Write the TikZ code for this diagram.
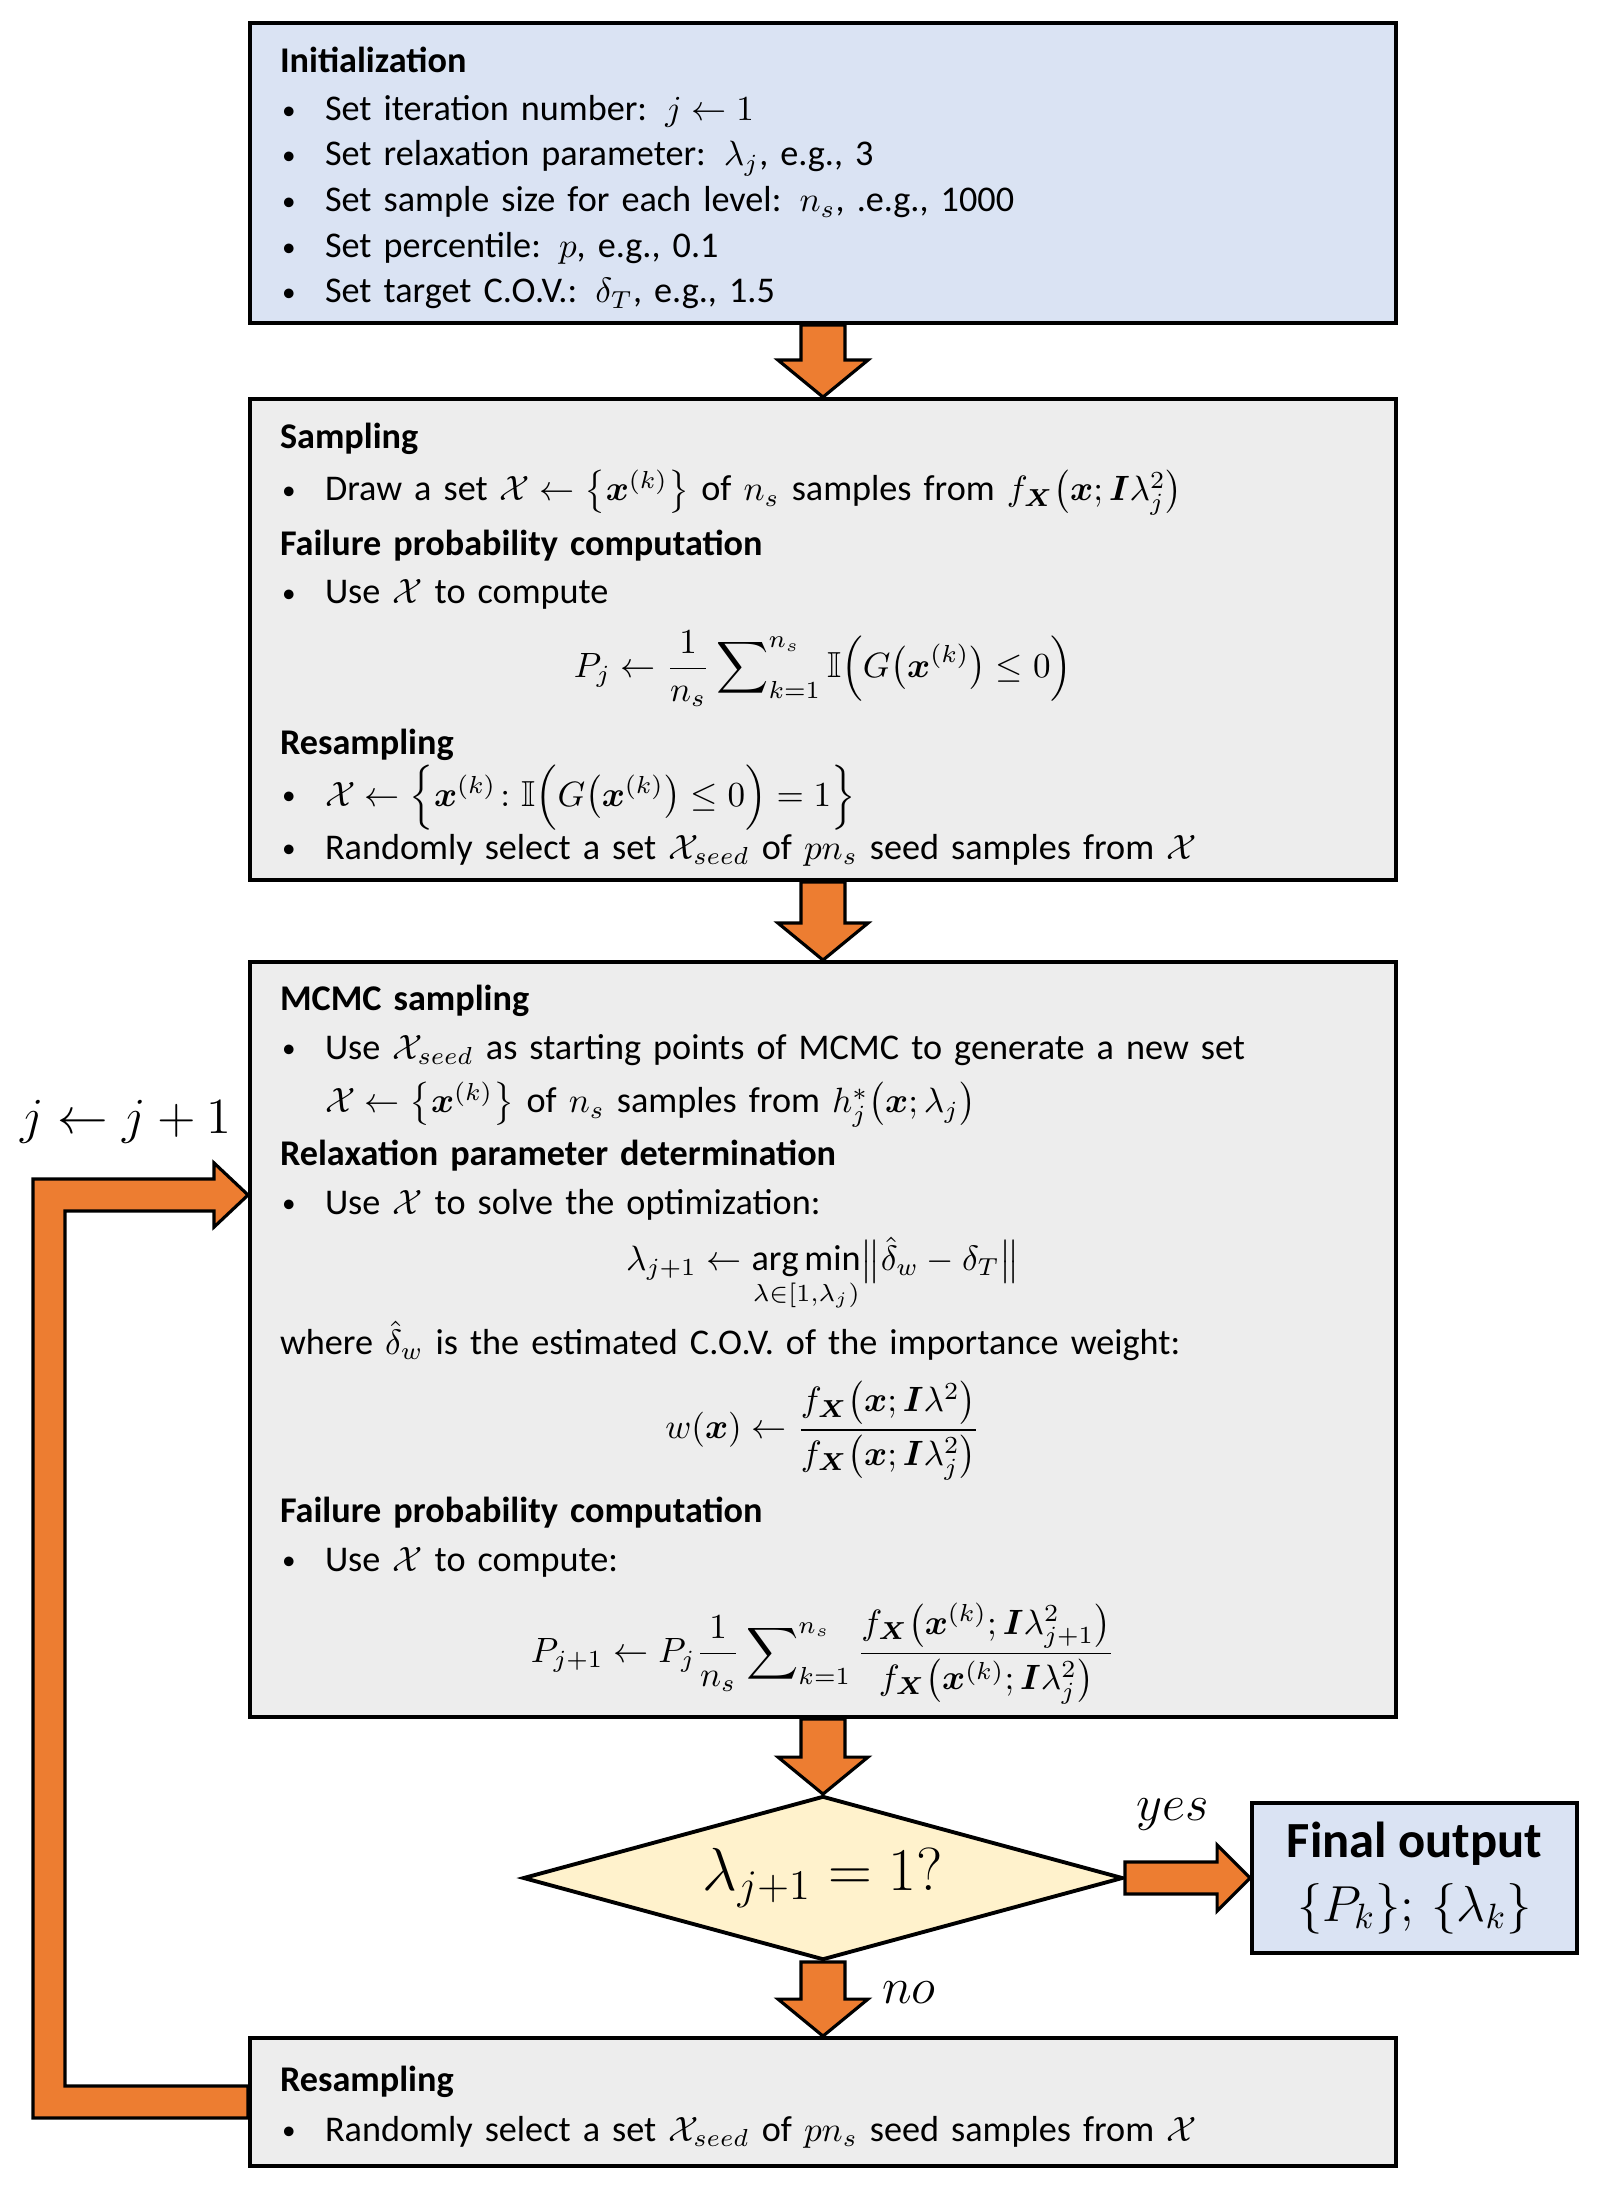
\documentclass[tikz,border=0pt]{standalone}
\usepackage{amsmath,amssymb}
\usepackage{fontspec}
\setmainfont{Carlito}
\usetikzlibrary{calc, shapes.geometric}

\definecolor{initblue}{HTML}{DAE3F3}
\definecolor{boxgray}{HTML}{EDEDED}
\definecolor{checkyellow}{HTML}{FFF2CC}
\definecolor{arroworange}{HTML}{ED7D31}

\newcommand{\bodyfont}{\fontsize{10.3}{12}\selectfont\lineskiplimit=-\maxdimen\parindent=0pt}
\newcommand{\bigfont}{\fontsize{14.4}{17}\selectfont}
\newcommand{\topstrut}{\rule{0pt}{10.2pt}}
\newcommand{\bul}{\makebox[0.45cm][l]{\hspace{0.02cm}\raisebox{0.5pt}{\scalebox{0.75}{\textbullet}}}}
\newcommand{\bx}{\boldsymbol{x}}
\newcommand{\fX}{f_{\boldsymbol{X}}}
\newcommand{\cX}{\mathcal{X}}
\newcommand{\eqline}[1]{\makebox[\hsize]{$\displaystyle #1$}}

\tikzset{
  panel/.style={draw, line width=1.1pt, align=left, text width=10.86cm,
                minimum width=11.46cm, inner xsep=0.30cm, inner ysep=0pt,
                font=\bodyfont},
  initpanel/.style={panel, fill=initblue},
  workpanel/.style={panel, fill=boxgray},
  check/.style={diamond, draw, line width=1.1pt, fill=checkyellow, aspect=3.66,
                inner sep=0pt, minimum width=6cm, minimum height=1.64cm,
                font=\fontsize{17}{20}\selectfont},
  outbox/.style={draw, line width=1.1pt, fill=initblue, align=center,
                 minimum width=3.25cm, minimum height=1.5cm, font=\bigfont},
  fatarrow/.style={draw, line width=0.9pt, fill=arroworange, line join=miter},
  tag/.style={font=\bigfont, inner sep=0pt},
}

% fat block arrow pointing down, from the bottom of #1 to the top of #2
\newcommand{\fatdown}[2]{%
  \draw[fatarrow] ($(#1.south)+(-0.22,0)$) -- ($(#2.north)+(-0.22,0.37)$)
    -- ($(#2.north)+(-0.45,0.37)$) -- (#2.north) -- ($(#2.north)+(0.45,0.37)$)
    -- ($(#2.north)+(0.22,0.37)$) -- ($(#1.south)+(0.22,0)$) -- cycle;}
% fat block arrow pointing right, from the right of #1 to the left of #2
\newcommand{\fatright}[2]{%
  \draw[fatarrow] ($(#1.east)+(0,0.16)$) -- ($(#2.west)+(-0.33,0.16)$)
    -- ($(#2.west)+(-0.33,0.33)$) -- (#2.west) -- ($(#2.west)+(-0.33,-0.33)$)
    -- ($(#2.west)+(-0.33,-0.16)$) -- ($(#1.east)+(0,-0.16)$) -- cycle;}

\begin{document}
\begin{tikzpicture}
  \useasboundingbox (0,0) rectangle (16.09,-21.91);

  % ---------- initialization ----------
  \node[initpanel, minimum height=3.00cm] (init) at (8.23,-1.73)
    {\topstrut\textbf{Initialization}\\[1.7pt]
     \bul Set iteration number: $j \leftarrow 1$\\[0.8pt]
     \bul Set relaxation parameter: $\lambda_j$, e.g., 3\\[1.1pt]
     \bul Set sample size for each level: $n_s$, .e.g., 1000\\[1.1pt]
     \bul Set percentile: $p$, e.g., 0.1\\[0.8pt]
     \bul Set target C.O.V.: $\delta_T$, e.g., 1.5};

  % ---------- first level ----------
  \node[workpanel, minimum height=4.81cm] (samp) at (8.23,-6.395)
    {\topstrut\textbf{Sampling}\\[2.8pt]
     \bul Draw a set $\cX \leftarrow \bigl\{\bx^{(k)}\bigr\}$ of $n_s$ samples from
       $\fX\bigl(\bx;\boldsymbol{I}\lambda_j^2\bigr)$\\[3.4pt]
     \textbf{Failure probability computation}\\[1.9pt]
     \bul Use $\cX$ to compute\\[8.8pt]
     \eqline{P_j \leftarrow \frac{1}{n_s}\sum\nolimits_{k=1}^{n_s}
       \mathbb{I}\Bigl(G\bigl(\bx^{(k)}\bigr)\le 0\Bigr)}\\[9.9pt]
     \textbf{Resampling}\\[2.8pt]
     \bul $\cX \leftarrow \Bigl\{\bx^{(k)}\colon
       \mathbb{I}\Bigl(G\bigl(\bx^{(k)}\bigr)\le 0\Bigr)=1\Bigr\}$\\[3.1pt]
     \bul Randomly select a set $\cX_{seed}$ of $pn_s$ seed samples from $\cX$};

  % ---------- iterated level ----------
  \node[workpanel, minimum height=7.55cm] (mcmc) at (8.23,-13.395)
    {\topstrut\textbf{MCMC sampling}\\[1.9pt]
     \bul Use $\cX_{seed}$ as starting points of MCMC to generate a new set\\[3.1pt]
     \hspace*{0.45cm}$\cX \leftarrow \bigl\{\bx^{(k)}\bigr\}$ of $n_s$ samples from
       $h_j^*\bigl(\bx;\lambda_j\bigr)$\\[3.1pt]
     \textbf{Relaxation parameter determination}\\[1.9pt]
     \bul Use $\cX$ to solve the optimization:\\[3.9pt]
     \eqline{\lambda_{j+1} \leftarrow \operatorname*{arg\,min}_{\lambda\in[1,\lambda_j)}
       \bigl\|\hat{\delta}_w-\delta_T\bigr\|}\\[11.9pt]
     where $\hat{\delta}_w$ is the estimated C.O.V. of the importance weight:\\[11.9pt]
     \eqline{w(\bx) \leftarrow \frac{\fX\bigl(\bx;\boldsymbol{I}\lambda^2\bigr)}
       {\fX\bigl(\bx;\boldsymbol{I}\lambda_j^2\bigr)}}\\[11.9pt]
     \textbf{Failure probability computation}\\[1.9pt]
     \bul Use $\cX$ to compute:\\[13.9pt]
     \eqline{P_{j+1} \leftarrow P_j\frac{1}{n_s}\sum\nolimits_{k=1}^{n_s}
       \frac{\fX\bigl(\bx^{(k)};\boldsymbol{I}\lambda_{j+1}^2\bigr)}
            {\fX\bigl(\bx^{(k)};\boldsymbol{I}\lambda_j^2\bigr)}}};

  % ---------- stopping check ----------
  \node[check] (decide) at (8.23,-18.78) {$\lambda_{j+1} = 1?$};
  \node[outbox] (final) at (14.145,-18.78)
    {\textbf{Final output}\\[1pt]$\{P_k\};\,\{\lambda_k\}$};

  \node[workpanel, minimum height=1.28cm] (resamp) at (8.23,-21.02)
    {\topstrut\textbf{Resampling}\\[2.2pt]
     \bul Randomly select a set $\cX_{seed}$ of $pn_s$ seed samples from $\cX$};

  % ---------- block arrows ----------
  \fatdown{init}{samp}
  \fatdown{samp}{mcmc}
  \fatdown{mcmc}{decide}
  \fatdown{decide}{resamp}
  \fatright{decide}{final}

  % loop back to the MCMC level
  \coordinate (loopx) at (0.49,0);
  \coordinate (back) at ([yshift=1.445cm]mcmc.west);
  \draw[fatarrow]
    ($(resamp.west)+(0,-0.16)$) -- ($(resamp.west -| loopx)+(-0.16,-0.16)$)
    -- ($(back -| loopx)+(-0.16,0.16)$) -- ($(back)+(-0.34,0.16)$)
    -- ($(back)+(-0.34,0.32)$) -- (back) -- ($(back)+(-0.34,-0.32)$)
    -- ($(back)+(-0.34,-0.16)$) -- ($(back -| loopx)+(0.16,-0.16)$)
    -- ($(resamp.west -| loopx)+(0.16,0.16)$) -- ($(resamp.west)+(0,0.16)$) -- cycle;

  \node[tag, anchor=base] (iterlbl) at (1.26,-11.33) {$j \leftarrow j+1$};
  \node[tag] (yeslbl) at (11.73,-18.15) {$yes$};
  \node[tag] (nolbl) at (9.09,-19.93) {$no$};

\end{tikzpicture}
\end{document}
